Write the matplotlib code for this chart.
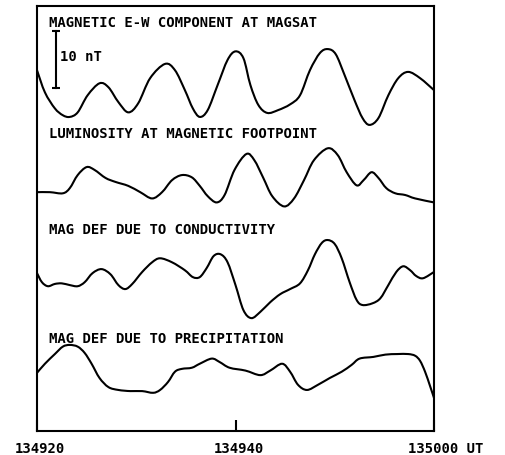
import numpy as np
import matplotlib
matplotlib.use('Agg')
import matplotlib.pyplot as plt
from matplotlib.path import Path
from matplotlib.patches import PathPatch
from matplotlib.transforms import ScaledTranslation

# time in seconds after 13:49:20 UT, values in nT relative to each trace baseline
t_mag = [0.0, 0.8, 1.8, 2.6, 3.3, 4.1, 5.1, 6.3, 7.2, 8.2, 9.2, 10.2, 11.4, 12.9, 13.9,
         14.9, 15.7, 16.4, 17.2, 18.2, 19.2, 20.0, 20.8, 21.5, 22.3, 23.2, 24.3, 25.5,
         26.5, 27.5, 28.5, 29.3, 30.1, 31.0, 32.0, 32.8, 33.5, 34.4, 35.4, 36.4, 37.4,
         38.6, 40.0]
v_mag = [3.5, -0.4, -3.2, -4.4, -4.7, -3.9, -0.9, 1.2, 0.5, -2.1, -3.9, -2.3, 2.1, 4.6,
         3.5, 0.0, -3.2, -4.7, -3.5, 0.9, 5.3, 6.8, 5.6, 0.9, -2.6, -4.0, -3.5, -2.5,
         -0.9, 3.5, 6.5, 7.2, 6.3, 2.6, -1.8, -4.9, -6.1, -4.9, -0.9, 2.1, 3.2, 2.1, 0.0]

t_lum = [0.0, 1.3, 2.6, 3.3, 4.1, 5.0, 5.8, 6.9, 7.9, 9.2, 10.4, 11.6, 12.6, 13.6, 14.6,
         15.6, 16.4, 17.2, 18.1, 18.9, 19.9, 21.1, 21.9, 22.8, 23.7, 24.9, 25.9, 26.9,
         27.9, 29.3, 30.3, 31.2, 32.2, 32.9, 33.7, 34.4, 35.2, 36.1, 37.1, 38.1, 40.0]
v_lum = [0.0, 0.0, -0.2, 0.7, 3.0, 4.4, 3.9, 2.5, 1.8, 1.1, 0.0, -1.1, 0.0, 2.1, 3.0,
         2.6, 1.1, -0.7, -1.8, -0.5, 3.9, 6.7, 5.6, 2.5, -0.7, -2.5, -1.1, 2.1, 5.6,
         7.7, 6.5, 3.5, 1.2, 2.1, 3.5, 2.5, 0.7, -0.2, -0.5, -1.1, -1.8]

t_cond = [0.0, 0.5, 1.1, 1.8, 2.5, 3.3, 4.1, 4.8, 5.6, 6.5, 7.4, 8.2, 8.9, 9.6, 10.6,
          11.6, 12.4, 13.6, 14.9, 15.7, 16.4, 17.1, 17.8, 18.5, 19.2, 20.0, 20.8, 21.6,
          22.5, 23.5, 24.5, 25.5, 26.5, 27.3, 28.0, 28.7, 29.3, 30.0, 30.7, 31.5, 32.2,
          32.8, 33.8, 34.6, 35.4, 36.2, 36.9, 37.6, 38.2, 38.9, 40.0]
v_cond = [0.0, -1.6, -2.3, -1.9, -1.8, -2.1, -2.3, -1.6, 0.0, 0.7, -0.2, -2.1, -2.8,
          -1.9, 0.2, 1.9, 2.6, 1.9, 0.5, -0.7, -0.7, 0.9, 3.0, 3.3, 1.9, -2.1, -6.5,
          -7.9, -6.8, -5.1, -3.7, -2.8, -1.8, 0.5, 3.3, 5.3, 5.8, 5.1, 2.6, -1.6, -4.7,
          -5.6, -5.3, -4.4, -2.1, 0.2, 1.2, 0.5, -0.5, -0.9, 0.2]

t_prec = [0.0, 0.8, 1.8, 2.6, 3.3, 4.1, 4.8, 5.5, 6.3, 7.2, 8.2, 9.4, 10.6, 11.7, 12.4,
          13.2, 13.9, 14.6, 15.6, 16.4, 17.6, 18.4, 19.4, 21.0, 22.5, 23.5, 24.7, 25.5,
          26.3, 27.2, 28.3, 29.5, 30.7, 31.7, 32.5, 33.9, 35.1, 36.3, 37.4, 38.1, 38.6,
          39.1, 39.6, 40.0]
v_prec = [0.0, 1.6, 3.3, 4.6, 4.9, 4.6, 3.5, 1.6, -0.9, -2.5, -3.0, -3.2, -3.2, -3.5,
          -3.0, -1.6, 0.2, 0.7, 0.9, 1.6, 2.5, 1.9, 0.9, 0.4, -0.4, 0.4, 1.6, 0.2, -2.1,
          -3.0, -2.1, -0.9, 0.2, 1.4, 2.5, 2.8, 3.2, 3.3, 3.3, 3.0, 2.1, 0.2, -2.3, -4.4]

titles = ['MAGNETIC E-W COMPONENT AT MAGSAT',
          'LUMINOSITY AT MAGNETIC FOOTPOINT',
          'MAG DEF DUE TO CONDUCTIVITY',
          'MAG DEF DUE TO PRECIPITATION']
tick_pos = [0, 20, 40]
tick_labels = ['134920', '134940', '135000 UT']
scale_nt = 10

# layout
offsets = [59.8, 41.9, 27.7, 10.2]
title_y = [71.6, 52.1, 35.3, 16.1]
font = dict(family='DejaVu Sans Mono', weight='bold', size=10)


def smooth_path(x, y):
    # Catmull-Rom through the points, drawn as cubic bezier segments
    p = np.column_stack([x, y]).astype(float)
    ext = np.vstack([p[0], p, p[-1]])
    verts = [p[0]]
    codes = [Path.MOVETO]
    for i in range(1, len(ext) - 2):
        p0, p1, p2, p3 = ext[i - 1], ext[i], ext[i + 1], ext[i + 2]
        verts += [p1 + (p2 - p0) / 6, p2 - (p3 - p1) / 6, p2]
        codes += [Path.CURVE4] * 3
    return Path(verts, codes)


fig = plt.figure(figsize=(5.05, 4.55), dpi=100)
ax = fig.add_axes([37/505, 24/455, 397/505, 425/455])

traces = [(t_mag, v_mag), (t_lum, v_lum), (t_cond, v_cond), (t_prec, v_prec)]
for (t, v), off, title, ty in zip(traces, offsets, titles, title_y):
    path = smooth_path(t, np.array(v) + off)
    ax.add_patch(PathPatch(path, fill=False, edgecolor='black', lw=1.5,
                           joinstyle='round', capstyle='round'))
    ax.text(1.2, ty, title, va='center', ha='left', **font)

# 10 nT scale bar
ax.plot([1.9, 1.9], [60.2, 60.2 + scale_nt], color='black', lw=1.5,
        marker='_', markersize=6, markeredgewidth=1.5)
ax.text(2.3, 65.6, '10 nT', va='center', ha='left', **font)

ax.set_xlim(0, 40)
ax.set_ylim(0, 74.56)
ax.set_yticks([])
ax.set_xticks(tick_pos)
ax.set_xticklabels(tick_labels, **font)
ax.tick_params(axis='x', direction='in', length=8, width=1.5, pad=8)
labs = ax.get_xticklabels()
for lab in labs[:2]:
    lab.set_transform(lab.get_transform() + ScaledTranslation(0.03, 0, fig.dpi_scale_trans))
labs[-1].set_horizontalalignment('left')
labs[-1].set_transform(labs[-1].get_transform() + ScaledTranslation(-0.26, 0, fig.dpi_scale_trans))
for s in ax.spines.values():
    s.set_linewidth(1.5)

fig.savefig('out.png', dpi=100)
